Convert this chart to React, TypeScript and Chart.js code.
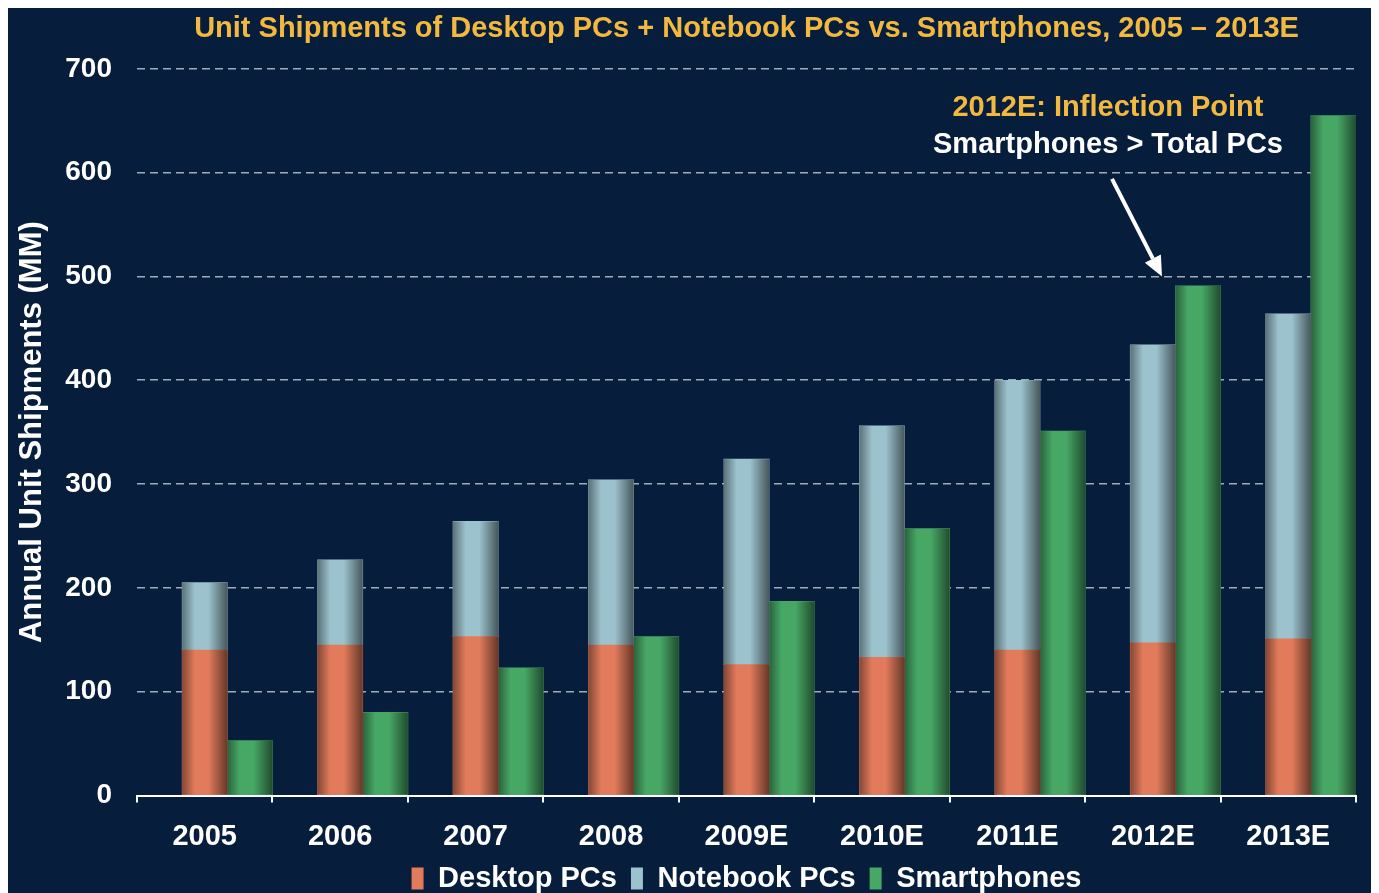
import React, { useEffect, useRef } from "react";
import { Chart, registerables } from "chart.js";

Chart.register(...registerables);

const categories = ["2005", "2006", "2007", "2008", "2009E", "2010E", "2011E", "2012E", "2013E"];
const desktopPCs = [140, 145, 153, 145, 126, 133, 140, 147, 151];
const notebookPCs = [65, 82, 111, 159, 198, 223, 260, 287, 313];
const smartphones = [53, 80, 123, 153, 187, 257, 351, 491, 655];
const spacer = [null, null, null, null, null, null, null, null, null];
const yTicks = [0, 100, 200, 300, 400, 500, 600, 700];

const titleText = "Unit Shipments of Desktop PCs + Notebook PCs vs. Smartphones, 2005 \u2013 2013E";
const yTitle = "Annual Unit Shipments (MM)";
const noteLine1 = "2012E: Inflection Point";
const noteLine2 = "Smartphones > Total PCs";
const noteIndex = 7;

const FONT = "'Liberation Sans', Arial, Helvetica, sans-serif";
const BG = "#071d3c";
const GOLD = "#f2b940";

const shadePlugin = {
  id: "shade",
  afterDatasetsDraw(chart: any) {
    const ctx = chart.ctx;
    chart.data.datasets.forEach((ds: any, i: number) => {
      if (ds.stack === "gap") return;
      const meta = chart.getDatasetMeta(i);
      meta.data.forEach((bar: any) => {
        const { x, y, base, width } = bar.getProps(["x", "y", "base", "width"], true);
        if (y == null || isNaN(y)) return;
        const l = x - width / 2;
        const g = ctx.createLinearGradient(l, 0, l + width, 0);
        g.addColorStop(0, "rgba(0,0,0,0.42)");
        g.addColorStop(0.28, "rgba(0,0,0,0)");
        g.addColorStop(0.58, "rgba(0,0,0,0)");
        g.addColorStop(1, "rgba(0,0,0,0.55)");
        ctx.save();
        ctx.fillStyle = g;
        ctx.fillRect(l, Math.min(y, base), width, Math.abs(base - y));
        ctx.restore();
      });
    });
  },
};

const notePlugin = {
  id: "note",
  afterDraw(chart: any) {
    const ctx = chart.ctx;
    const ys = chart.scales.y;
    const meta = chart.getDatasetMeta(3);
    const bar = meta.data[noteIndex];
    if (!bar) return;
    const bx = bar.x;
    const textX = bx - 90;
    ctx.save();
    ctx.textAlign = "center";
    ctx.textBaseline = "middle";
    ctx.font = `bold 29px ${FONT}`;
    ctx.fillStyle = GOLD;
    ctx.fillText(noteLine1, textX, ys.getPixelForValue(662));
    ctx.fillStyle = "#ffffff";
    ctx.fillText(noteLine2, textX, ys.getPixelForValue(627));
    // arrow
    const x1 = bx - 86, y1 = ys.getPixelForValue(594);
    const x2 = bx - 36, y2 = ys.getPixelForValue(500);
    const ang = Math.atan2(y2 - y1, x2 - x1);
    const head = 20;
    const hw = 9;
    const bxh = x2 - head * Math.cos(ang);
    const byh = y2 - head * Math.sin(ang);
    ctx.strokeStyle = "#ffffff";
    ctx.lineWidth = 4;
    ctx.beginPath();
    ctx.moveTo(x1, y1);
    ctx.lineTo(bxh, byh);
    ctx.stroke();
    ctx.fillStyle = "#ffffff";
    ctx.beginPath();
    ctx.moveTo(x2, y2);
    ctx.lineTo(bxh + hw * Math.sin(ang), byh - hw * Math.cos(ang));
    ctx.lineTo(bxh - hw * Math.sin(ang), byh + hw * Math.cos(ang));
    ctx.closePath();
    ctx.fill();
    ctx.restore();
  },
};

export default function App() {
  const ref = useRef<HTMLCanvasElement | null>(null);

  useEffect(() => {
    document.body.style.overflow = "hidden";
    if (!ref.current) return;
    const chart = new Chart(ref.current, {
      type: "bar",
      data: {
        labels: categories,
        datasets: [
          { label: "", data: spacer as any, stack: "gap", backgroundColor: "rgba(0,0,0,0)" },
          { label: "Desktop PCs", data: desktopPCs, stack: "pc", backgroundColor: "#e27b5b" },
          { label: "Notebook PCs", data: notebookPCs, stack: "pc", backgroundColor: "#9cc2cd" },
          { label: "Smartphones", data: smartphones, stack: "sp", backgroundColor: "#47a866" },
        ],
      },
      options: {
        animation: false,
        responsive: false,
        maintainAspectRatio: false,
        layout: { padding: { left: 0, right: 15, top: 0, bottom: 0 } },
        datasets: {
          bar: { categoryPercentage: 1, barPercentage: 1, borderWidth: 0 },
        },
        plugins: {
          tooltip: { enabled: false },
          title: {
            display: true,
            text: titleText,
            color: GOLD,
            fullSize: false,
            font: { family: FONT, size: 29, weight: "bold" },
            padding: { top: 4, bottom: 22 },
          },
          legend: {
            position: "bottom",
            fullSize: false,
            labels: {
              color: "#ffffff",
              font: { family: FONT, size: 29, weight: "bold" },
              boxWidth: 12,
              boxHeight: 22,
              padding: 14,
              filter: (item: any) => item.text !== "",
            },
          },
        },
        scales: {
          x: {
            afterFit: (scale: any) => {
              scale.height = 54.5;
            },
            grid: {
              offset: true,
              drawOnChartArea: false,
              drawTicks: true,
              tickLength: 7,
              color: "#ffffff",
              lineWidth: 2,
            },
            border: { display: true, color: "#ffffff", width: 2 },
            ticks: {
              color: "#ffffff",
              font: { family: FONT, size: 29, weight: "bold" },
              padding: 17,
              maxRotation: 0,
            },
          },
          y: {
            stacked: true,
            min: 0,
            max: 700,
            afterFit: (scale: any) => {
              scale.width = 129;
            },
            afterBuildTicks: (scale: any) => {
              scale.ticks = yTicks.map((v) => ({ value: v }));
            },
            grid: {
              drawTicks: false,
              color: (c: any) => (c.tick && c.tick.value === 0 ? "rgba(0,0,0,0)" : "#a2abb8"),
              lineWidth: 1.6,
            },
            border: { display: false, dash: [8, 5] },
            ticks: {
              color: "#ffffff",
              font: { family: FONT, size: 28, weight: "bold" },
              padding: 25,
            },
            title: {
              display: true,
              text: yTitle,
              color: "#ffffff",
              font: { family: FONT, size: 31, weight: "bold" },
              padding: { top: 6, bottom: 0 },
            },
          },
        },
      },
      plugins: [shadePlugin, notePlugin],
    } as any);
    return () => chart.destroy();
  }, []);

  return (
    <div style={{ background: BG, width: 1363, height: 895 }}>
      <canvas ref={ref} width={1363} height={895} style={{ display: "block" }} />
    </div>
  );
}
